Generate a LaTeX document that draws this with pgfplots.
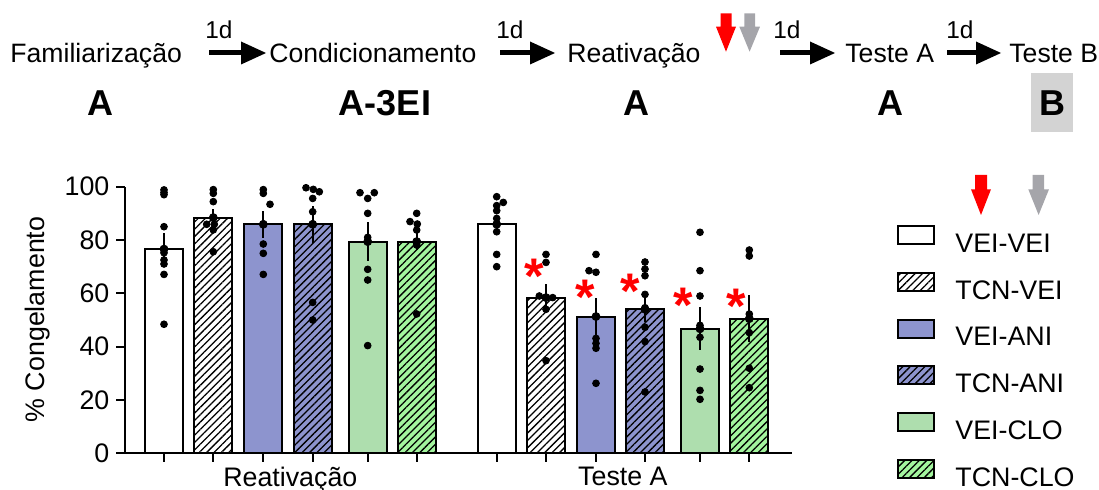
\documentclass[border=0pt]{standalone}
\usepackage{fontspec}
\setmainfont{Liberation Sans}
\usepackage{pgfplots}
\pgfplotsset{compat=1.18}
\usetikzlibrary{patterns.meta}
\definecolor{ani}{RGB}{141,148,206}
\definecolor{clo}{RGB}{174,222,174}
\definecolor{clot}{RGB}{163,245,158}
\definecolor{agray}{RGB}{165,165,170}
\definecolor{bgray}{RGB}{211,211,211}
\pgfplotsset{
 mybar/.style={ybar, bar width=38, bar shift=0pt, draw=black, line width=1pt,
   legend image code/.code={\draw[##1, line width=1pt] (0pt,0.3pt) rectangle (18pt,9.3pt);}},
 hatch/.style={postaction={pattern={Lines[angle=45,distance=2.6pt,line width=0.65pt]}, pattern color=black}},
 dots/.style={forget plot, only marks, mark=*, mark size=1.7pt, black},
 errs/.style={forget plot, only marks, mark=none, error bars/.cd, y dir=both, y explicit, error mark=none, error bar style={line width=1pt, black}},
}
\begin{document}
\begin{tikzpicture}
\begin{scope}[x=0.5pt,y=-0.5pt]
% timeline texts
\begin{scope}[every node/.style={inner sep=0pt, font=\fontsize{13.3}{16}\selectfont}]
\node[anchor=base west] at (10,63) {Familiarização};
\node[anchor=base west] at (269,63) {Condicionamento};
\node[anchor=base west] at (567,63) {Reativação};
\node[anchor=base west] at (845,63) {Teste A};
\node[anchor=base west] at (1009,63) {Teste B};
\end{scope}
\begin{scope}[every node/.style={inner sep=0pt, anchor=base west, font=\fontsize{12.2}{14}\selectfont}]
\node at (205,38.5) {1d};
\node at (496,38.5) {1d};
\node at (773,38.5) {1d};
\node at (946,38.5) {1d};
\end{scope}
% timeline arrows
\foreach \a/\b/\c in {209/241/266, 500/530/555, 780/810/835, 947/976/1001}{
  \fill[black] (\a,50.5) rectangle (\b+1,55.5);
  \fill[black] (\b,41.5) -- (\c,53) -- (\b,64.5) -- cycle;
}
% drug arrows
\fill[red] (720.7,13.3) rectangle (731.7,27) (716,26.7) -- (736,26.7) -- (726,51.7) -- cycle;
\fill[agray] (744.3,13.3) rectangle (755,27) (739.3,26.7) -- (760,26.7) -- (749.6,51.7) -- cycle;
\fill[red] (975,175) rectangle (987,189.5) (971,189.3) -- (991,189.3) -- (981,215) -- cycle;
\fill[agray] (1032.7,175) rectangle (1044,189.5) (1028.3,189.3) -- (1049,189.3) -- (1038.6,215) -- cycle;
% context letters
\fill[bgray] (1031,72.7) rectangle (1073.3,132.3);
\begin{scope}[every node/.style={inner sep=0pt, anchor=base, font=\fontsize{18}{20}\selectfont\bfseries}]
\node at (100.3,116) {A};
\node at (385,116) {A-3EI};
\node at (636,116) {A};
\node at (890,116) {A};
\node at (1052,116) {B};
\end{scope}
\end{scope}

\begin{axis}[
 at={(62.5pt,-226.65pt)}, anchor=south west,
 scale only axis, width=333.35pt, height=133.3pt,
 xmin=125, xmax=791.7, ymin=0, ymax=100,
 axis lines=left, axis line style={line width=1pt, -},
 xtick={164,213.3,263.3,312.7,367.7,416.7,496.7,546,596,645,700,749.3},
 xticklabels={},
 extra x ticks={290.3,622.9},
 extra x tick labels={Reativação,Teste A},
 extra x tick style={major tick length=0pt, tick label style={inner sep=0pt, yshift=-6.6pt}},
 ytick={0,20,40,60,80,100},
 tick align=outside, major tick length=4.3pt,
 tick style={line width=1pt, black},
 tick label style={font=\fontsize{13.4}{16}\selectfont},
 /pgf/number format/assume math mode=true,
 ylabel={\% Congelamento},
 every axis y label/.style={at={(axis description cs:-0.1305,0.502)}, rotate=90, anchor=center, font=\fontsize{13.4}{16}\selectfont},
 clip=false,
 legend style={at={(axis description cs:1.158,0.858)}, anchor=north west, draw=none, fill=none,
   font=\fontsize{13.4}{16}\selectfont, row sep=8.2pt, column sep=10pt, inner sep=0pt, nodes={inner sep=0pt}},
 legend cell align=left,
]
\addplot[mybar, fill=white] coordinates {(164,76.6) (496.7,85.9)};
\addlegendentry{VEI-VEI}
\addplot[mybar, fill=white, hatch] coordinates {(213.3,88.4) (546,58.4)};
\addlegendentry{TCN-VEI}
\addplot[mybar, fill=ani] coordinates {(263.3,85.9) (596,51.3)};
\addlegendentry{VEI-ANI}
\addplot[mybar, fill=ani, hatch] coordinates {(312.7,85.9) (645,54.0)};
\addlegendentry{TCN-ANI}
\addplot[mybar, fill=clo] coordinates {(367.7,79.4) (700,46.7)};
\addlegendentry{VEI-CLO}
\addplot[mybar, fill=clot, hatch] coordinates {(416.7,79.4) (749.3,50.5)};
\addlegendentry{TCN-CLO}

% error bars (mean +- SEM)
\addplot[errs] coordinates {(164,76.6) +- (0,6) (496.7,85.9) +- (0,3)};
\addplot[errs] coordinates {(213.3,88.4) +- (0,3.3) (546,58.4) +- (0,5)};
\addplot[errs] coordinates {(263.3,85.9) +- (0,5) (596,51.3) +- (0,7)};
\addplot[errs] coordinates {(312.7,85.9) +- (0,7) (645,54.0) +- (0,4.7)};
\addplot[errs] coordinates {(367.7,79.4) +- (0,7.2) (700,46.7) +- (0,8)};
\addplot[errs] coordinates {(416.7,79.4) +- (0,3.3) (749.3,50.5) +- (0,8.7)};

% individual animals
\addplot[dots] coordinates {(164,98.8)(164,97.8)(164,97.0)(164,85)(164,75.2)(164,72.5)(164,71)(164,67.1)(164,48.4)
 (496.7,96.25)(503.3,94.1)(496.7,92.9)(496.7,91)(496.7,88.1)(496.7,83.1)(496.7,74.6)(496.7,70)};
\addplot[dots] coordinates {(213.3,98.9)(213.3,97.5)(213.3,94.4)(206.7,85.9)(214.3,85.9)(213.3,83.8)(213.3,75.6)
 (546,74.6)(546,71.6)(539.3,59)(546,58.4)(552.7,58.4)(546,54)(546,34.75)};
\addplot[dots] coordinates {(263.3,98.9)(263.3,97.5)(270,93.4)(263.3,78.5)(263.3,75)(263.3,67.1)
 (596,74.6)(589,68.5)(596,67.9)(596,43.1)(596,41.25)(596,39.4)(596,26.25)};
\addplot[dots] coordinates {(306,99.6)(313.3,99)(319.3,98.1)(312.7,95.6)(312.7,90.6)(312.7,56.6)(312.7,50)
 (645,71.75)(645,69.1)(645,66.6)(645,59.6)(645,54.6)(645,47.25)(645,41.9)(645,23)};
\addplot[dots] coordinates {(360,97.75)(367.7,95.6)(374.3,97.75)(367.7,90)(367.7,81)(367.7,69)(367.7,65)(367.7,40.4)
 (700,82.9)(700,68.5)(700,59)(700,48)(700,43.5)(700,31.6)(700,23.6)(700,20.25)};
\addplot[dots] coordinates {(416.7,90)(410,86.9)(417.3,86)(416.7,83.75)(416.7,78.1)(416.7,52.25)
 (749.3,76.25)(749.3,74)(749.3,52.25)(749.3,45.25)(749.3,31.9)(749.3,24.6)};

% significance asterisks
\addplot[forget plot, only marks, red, mark=text, text mark={*}, text mark as node=true,
  text mark style={font=\fontsize{25}{25}\selectfont\bfseries, text=red, anchor=base, yshift=-14pt, inner sep=0pt}]
  coordinates {(534,70.4) (585,62.5) (630.7,64.75) (683.3,59.4) (736.7,59)};
\end{axis}
\pgfresetboundingbox
\path[use as bounding box] (0,0) rectangle (549.5pt,-245pt);
\end{tikzpicture}
\end{document}
